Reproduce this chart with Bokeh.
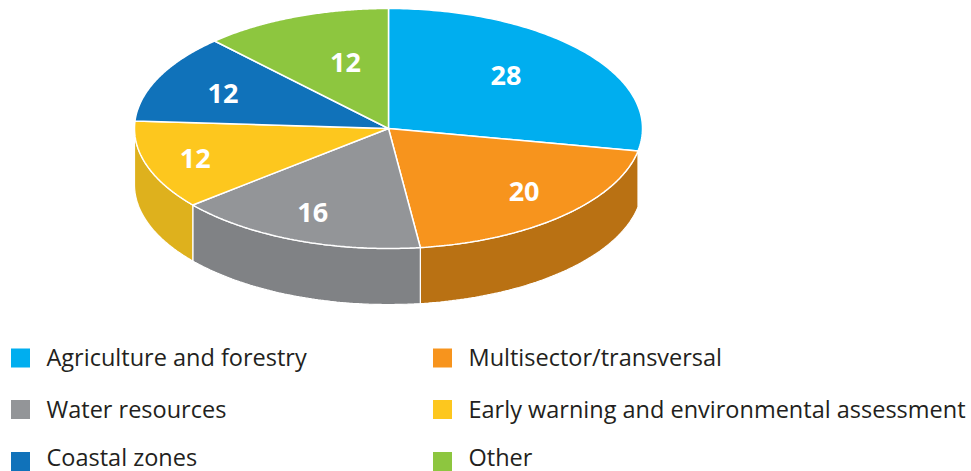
import numpy as np
from bokeh.plotting import figure
from bokeh.models import Range1d
from bokeh.embed import file_html
from bokeh.resources import INLINE
from bokeh.core.properties import value

# ---- data ----
categories = ["Agriculture and forestry", "Multisector/transversal", "Water resources",
              "Early warning and environmental assessment", "Coastal zones", "Other"]
values = [28, 20, 16, 12, 12, 12]
labels = ["28", "20", "16", "12", "12", "12"]

# ---- style ----
colors = ["#00AEEF", "#F7941D", "#939598", "#FDC71E", "#1072BA", "#8DC63F"]
side_colors = ["#0089BC", "#B97113", "#808285", "#DEB11D", "#0B5A93", "#6F9E30"]
label_fx = [0.60, 0.78, 0.81, 0.80, 0.72, 0.46]
label_fy = [0.69, 0.72, 0.75, 0.80, 0.69, 0.59]

W, H = 971, 471
p = figure(width=W, height=H, output_backend="svg", toolbar_location=None,
           x_range=Range1d(0, W), y_range=Range1d(H, 0),
           min_border=0, outline_line_color=None)
p.axis.visible = False
p.grid.visible = False

cx, cy, a, b, depth = 388.0, 128.0, 254.0, 120.0, 56.0

def ell(t_deg, dy=0.0):
    t = np.radians(t_deg)
    return cx + a * np.sin(t), cy - b * np.cos(t) + dy

total = float(sum(values))
bounds = np.concatenate([[0.0], np.cumsum(values) / total * 360.0])

# sides (front visible part)
for i in range(len(values)):
    s, e = bounds[i], bounds[i + 1]
    mid = (s + e) / 2
    if not (90 < mid < 270):
        continue
    s2, e2 = max(s, 90.0), min(e, 270.0)
    t = np.linspace(s2, e2, 80)
    xt, yt = ell(t)
    xb, yb = ell(t[::-1], depth)
    p.patch(np.concatenate([xt, xb]), np.concatenate([yt, yb]),
            fill_color=side_colors[i], line_color="white", line_width=1.2)

# top faces
for i in range(len(values)):
    s, e = bounds[i], bounds[i + 1]
    t = np.linspace(s, e, 120)
    xt, yt = ell(t)
    p.patch(np.concatenate([[cx], xt]), np.concatenate([[cy], yt]),
            fill_color=colors[i], line_color="white", line_width=1.5)

# labels
for i in range(len(values)):
    mid = np.radians((bounds[i] + bounds[i + 1]) / 2)
    lx = cx + a * np.sin(mid) * label_fx[i]
    ly = cy - b * np.cos(mid) * label_fy[i]
    p.text([lx], [ly], text=[labels[i]], text_color="white",
           text_font=value("Open Sans"), text_font_style="bold",
           text_font_size="27px", text_align="center", text_baseline="middle")

# legend
col_x = [20, 442]
row_y = [357.5, 409, 461]
text_y = [356.5, 408, 456]
for i, cat in enumerate(categories):
    c, r = i % 2, i // 2
    p.rect([col_x[c]], [row_y[r]], width=19, height=19, fill_color=colors[i], line_color=None)
    p.text([col_x[c] + 26], [text_y[r]], text=[cat], text_color="#231F20",
           text_font=value("Open Sans"), text_font_size="23.5px",
           text_align="left", text_baseline="middle")

open("out.html", "w").write(file_html(p, INLINE))
